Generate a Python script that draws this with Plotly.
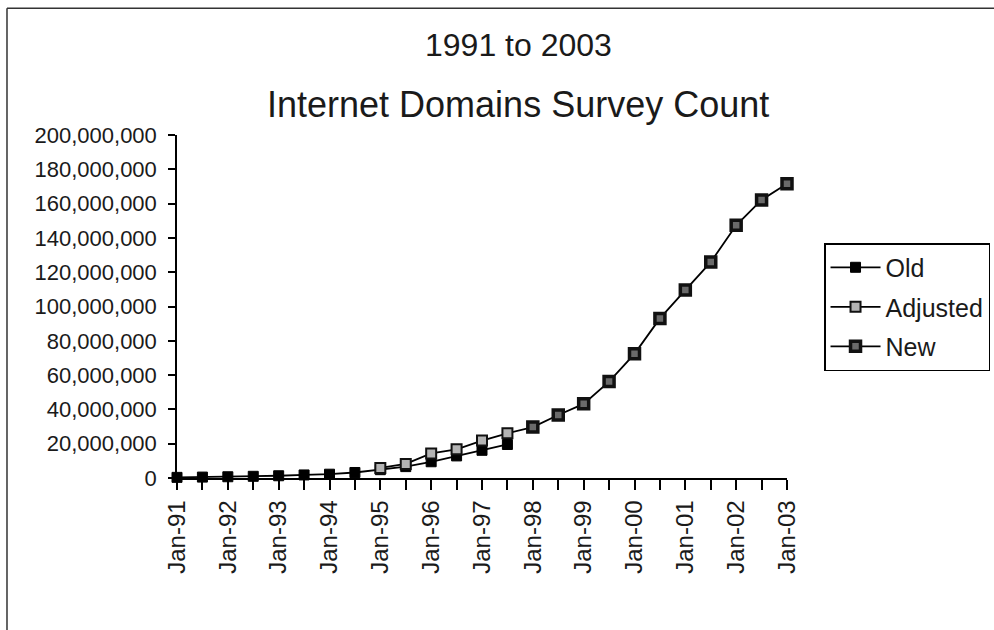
import plotly.graph_objects as go

# ---- data ----
categories = ["Jan-91", "Jul-91", "Jan-92", "Jul-92", "Jan-93", "Jul-93", "Jan-94", "Jul-94",
              "Jan-95", "Jul-95", "Jan-96", "Jul-96", "Jan-97", "Jul-97", "Jan-98", "Jul-98",
              "Jan-99", "Jul-99", "Jan-00", "Jul-00", "Jan-01", "Jul-01", "Jan-02", "Jul-02",
              "Jan-03"]
tick_labels = ["Jan-91", "", "Jan-92", "", "Jan-93", "", "Jan-94", "", "Jan-95", "", "Jan-96", "",
               "Jan-97", "", "Jan-98", "", "Jan-99", "", "Jan-00", "", "Jan-01", "", "Jan-02", "",
               "Jan-03"]

old_x = categories[0:14]
old_values = [376000, 535000, 727000, 992000, 1313000, 1776000, 2217000, 3212000,
              4852000, 6642000, 9472000, 12881000, 16146000, 19540000]

adjusted_x = categories[8:15]
adjusted_values = [5846000, 8200000, 14352000, 16729000, 21819000, 26053000, 29670000]

new_x = categories[14:25]
new_values = [29670000, 36739000, 43230000, 56218000, 72398092, 93047785, 109574429,
              125888197, 147344723, 162128493, 171638297]

y_max = 200000000
y_step = 20000000

FONT = "Liberation Sans, Arial, sans-serif"

fig = go.Figure()
fig.add_trace(go.Scatter(
    x=old_x, y=old_values, name="Old", mode="lines+markers",
    line=dict(color="black", width=1.8),
    marker=dict(symbol="square", size=10, color="black", line=dict(color="black", width=1)),
    cliponaxis=False, legendgroup="a"))
fig.add_trace(go.Scatter(
    x=adjusted_x, y=adjusted_values, name="Adjusted", mode="lines+markers",
    line=dict(color="black", width=1.8),
    marker=dict(symbol="square", size=10, color="#b4b4b4", line=dict(color="#111", width=2)),
    cliponaxis=False, legendgroup="b"))
fig.add_trace(go.Scatter(
    x=new_x, y=new_values, name="New", mode="lines+markers",
    line=dict(color="black", width=1.8),
    marker=dict(symbol="square", size=10, color="#6a6a6a", line=dict(color="#111", width=3.5)),
    cliponaxis=False, legendgroup="c"))

tickfont = dict(family=FONT, size=22, color="#1a1a1a")

fig.update_layout(
    width=994, height=630,
    margin=dict(l=177, r=207, t=135, b=152, pad=0, autoexpand=False),
    paper_bgcolor="white", plot_bgcolor="white",
    showlegend=True,
    legend=dict(
        x=1.0607, y=0.685, xanchor="left", yanchor="top",
        bordercolor="black", borderwidth=1.5, bgcolor="white",
        font=dict(family=FONT, size=25, color="#1a1a1a"),
        traceorder="grouped", tracegroupgap=4, itemwidth=50),
    xaxis=dict(
        type="category", categoryorder="array", categoryarray=categories,
        range=[0, len(categories) - 1],
        tickmode="array", tickvals=categories, ticktext=tick_labels,
        tickangle=-90, ticks="outside", ticklen=10, tickwidth=1.5, tickcolor="black",
        showline=True, linecolor="black", linewidth=1.5,
        showgrid=False, zeroline=False, tickfont=dict(family=FONT, size=24, color="#1a1a1a"),
        ticklabelstandoff=1),
    yaxis=dict(
        range=[0, y_max], dtick=y_step, tick0=0, tickformat=",d",
        ticks="outside", ticklen=7, tickwidth=1.5, tickcolor="black",
        showline=True, linecolor="black", linewidth=1.5,
        showgrid=False, zeroline=False, tickfont=tickfont, ticklabelstandoff=7),
    xaxis2=dict(
        overlaying="x", anchor="y", side="bottom", type="linear",
        range=[0, len(categories) - 1], tickmode="linear", tick0=0, dtick=1,
        ticks="inside", ticklen=5, tickwidth=1.5, tickcolor="black",
        showticklabels=False, showgrid=False, zeroline=False, showline=False),
    yaxis2=dict(
        overlaying="y", anchor="x", side="left",
        range=[0, y_max], dtick=y_step, tick0=0,
        ticks="inside", ticklen=7, tickwidth=1.5, tickcolor="black",
        showticklabels=False, showgrid=False, zeroline=False, showline=False),
    annotations=[
        dict(text="1991 to 2003", x=0.5598, y=1.263, xref="paper", yref="paper",
             xanchor="center", yanchor="middle", showarrow=False,
             font=dict(family=FONT, size=32, color="#1a1a1a")),
        dict(text="Internet Domains Survey Count", x=0.5598, y=1.09, xref="paper", yref="paper",
             xanchor="center", yanchor="middle", showarrow=False,
             font=dict(family=FONT, size=36, color="#1a1a1a")),
    ],
    shapes=[
        dict(type="line", xref="paper", yref="paper", x0=-0.2787, x1=1.34, y0=1.3697, y1=1.3697,
             line=dict(color="#333", width=1.5)),
        dict(type="line", xref="paper", yref="paper", x0=-0.2787, x1=-0.2787, y0=1.3697, y1=-0.45,
             line=dict(color="#333", width=1.5)),
    ],
)

fig.write_html("out.html", config={"displayModeBar": False},
               post_script="document.body.style.margin='0';")
